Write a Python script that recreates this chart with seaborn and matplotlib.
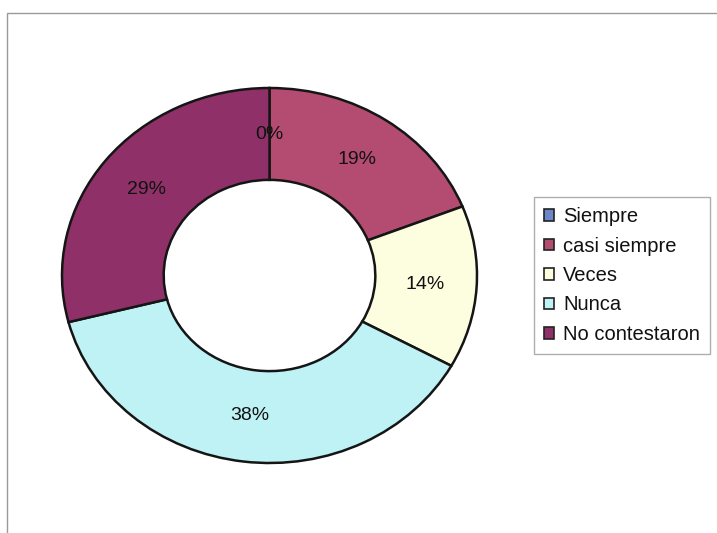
import matplotlib
matplotlib.use("Agg")
import matplotlib.pyplot as plt
from matplotlib.patches import Patch, Rectangle
import numpy as np
import seaborn as sns

# Survey answers and their shares (%)
categories = ["Siempre", "casi siempre", "Veces", "Nunca", "No contestaron"]
shares = [0, 19, 14, 38, 29]
pct_labels = ["0%", "19%", "14%", "38%", "29%"]
colors = ["#6d85c9", "#b44c72", "#fdfde0", "#bff2f5", "#8f3168"]

sns.set_theme(style="white")
plt.rcParams["font.family"] = ["Liberation Sans", "DejaVu Sans"]

W, H = 717, 533
fig = plt.figure(figsize=(W / 100, H / 100), dpi=100)
fig.patch.set_facecolor("white")

# Thin chart-area border along the top and left
fig.add_artist(Rectangle((7 / W, -0.05), 1.1, 1 - 13 / H + 0.05,
                         transform=fig.transFigure, fill=False,
                         edgecolor="#9a9a9a", linewidth=1.0))

# Donut drawn in an axes stretched horizontally
left, right, top, bottom = 62, 477, 88, 463
ax = fig.add_axes([left / W, 1 - bottom / H, (right - left) / W, (bottom - top) / H])

wedges, _ = ax.pie(shares, colors=colors, startangle=90, counterclock=False,
                   radius=1.0,
                   wedgeprops=dict(width=0.49, edgecolor="#151515", linewidth=1.8))
ax.set_aspect("auto")
ax.set_xlim(-1.0, 1.0)
ax.set_ylim(-1.0, 1.0)
ax.axis("off")

# Percentage labels at the middle of the ring
total = sum(shares)
start = 90.0
for val, lab in zip(shares, pct_labels):
    mid = start - val / total * 360 / 2
    start -= val / total * 360
    r = 0.75
    x = r * np.cos(np.radians(mid))
    y = r * np.sin(np.radians(mid))
    ax.text(x, y, lab, ha="center", va="center", fontsize=14, color="#111111")

handles = [Patch(facecolor=c, edgecolor="#222222", linewidth=1.2) for c in colors]
leg = fig.legend(handles, categories, loc="upper left",
                 bbox_to_anchor=(534 / W, 1 - 197 / H), borderaxespad=0,
                 fontsize=14.5, frameon=True, fancybox=False,
                 handlelength=0.5, handleheight=0.5, handletextpad=0.45,
                 labelspacing=0.52, borderpad=0.5)
for t in leg.get_texts():
    t.set_color("#111111")
leg.get_frame().set_edgecolor("#9a9a9a")
leg.get_frame().set_linewidth(1.0)

fig.savefig("out.png", dpi=100, facecolor="white")
